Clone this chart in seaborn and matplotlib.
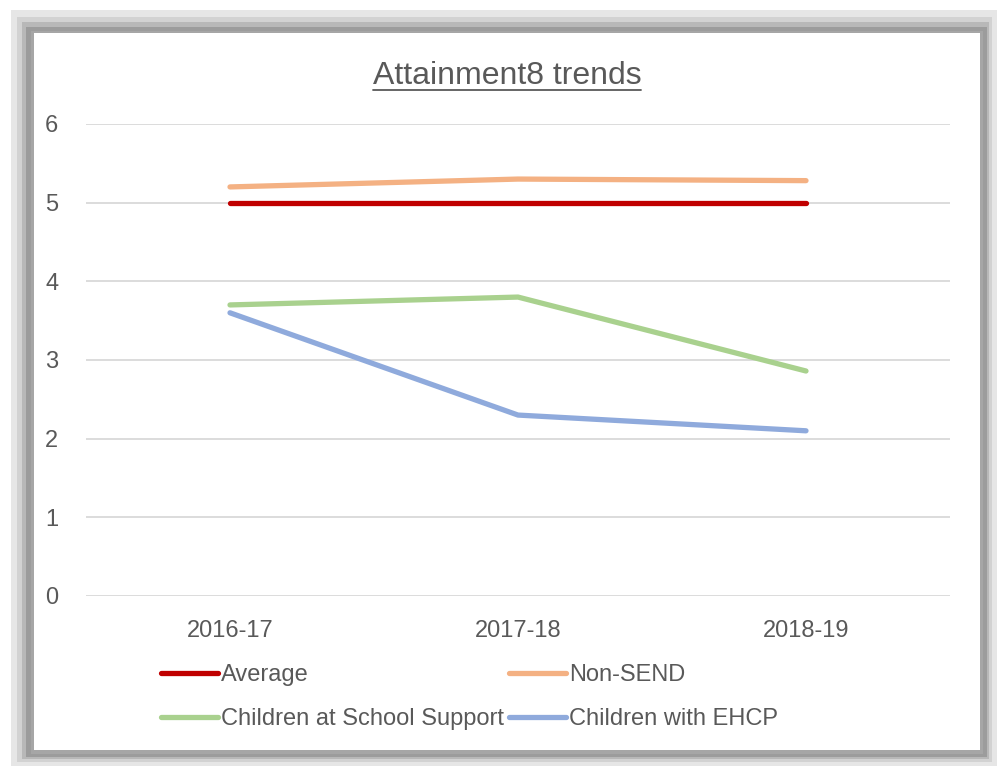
import matplotlib
matplotlib.use("Agg")
import matplotlib.pyplot as plt
from matplotlib.patches import Rectangle
import seaborn as sns
import pandas as pd

years = ["2016-17", "2017-18", "2018-19"]
average = [5.0, 5.0, 5.0]
non_send = [5.20, 5.30, 5.28]
school_support = [3.70, 3.80, 2.86]
ehcp = [3.60, 2.30, 2.10]

series_names = ["Average", "Non-SEND", "Children at School Support", "Children with EHCP"]
series_values = [average, non_send, school_support, ehcp]
colors = ["#C00000", "#F4B183", "#A9D18E", "#8FAADC"]

rows = []
for name, vals in zip(series_names, series_values):
    for i, (yr, v) in enumerate(zip(years, vals)):
        rows.append({"year": yr, "pos": i, "series": name, "value": v})
df = pd.DataFrame(rows)

sns.set_theme(style="white")
plt.rcParams["font.family"] = ["Liberation Sans", "DejaVu Sans"]

W, H = 997, 766
fig = plt.figure(figsize=(W / 100, H / 100), dpi=100)
fig.patch.set_facecolor("white")

def px_rect(x0, y0, x1, y1, color, z):
    fig.patches.append(Rectangle((x0 / W, 1 - y1 / H), (x1 - x0) / W, (y1 - y0) / H,
                                 transform=fig.transFigure, facecolor=color,
                                 edgecolor="none", zorder=z))

# layered frame around the chart area
px_rect(11, 10, 997, 766, "#e6e6e6", -10)
px_rect(17, 17, 992, 762, "#d2d2d2", -9)
px_rect(22, 22, 989, 759, "#b8b8b8", -8)
px_rect(26, 27, 987, 757, "#9c9c9c", -7)
px_rect(31, 31, 983, 754, "#a6a6a6", -6)
px_rect(34, 33, 980, 750, "white", -5)

ax = fig.add_axes([86 / W, 1 - 596 / H, (950 - 86) / W, (596 - 124) / H])
ax.set_facecolor("none")

sns.lineplot(data=df, x="pos", y="value", hue="series", hue_order=series_names,
             palette=colors, linewidth=3.8, ax=ax, legend=False, sort=False)
for ln in ax.lines:
    ln.set_solid_capstyle("round")

ax.set_xlim(-0.5, 2.5)
ax.set_ylim(0, 6)
ax.set_xticks(range(len(years)))
ax.set_xticklabels(years)
ax.set_yticks(range(0, 7))
ax.set_xlabel("")
ax.set_ylabel("")
ax.grid(axis="y", color="#d9d9d9", linewidth=1.3)
ax.set_axisbelow(True)
for s in ax.spines.values():
    s.set_visible(False)
ax.tick_params(axis="both", length=0, labelsize=17, labelcolor="#595959")
ax.tick_params(axis="y", pad=20)
ax.tick_params(axis="x", pad=17)

# title with underline
title = fig.text(507 / W, 1 - 76 / H, "Attainment8 trends", ha="center", va="center",
                 fontsize=23, color="#595959")
fig.canvas.draw()
bb = title.get_window_extent().transformed(fig.transFigure.inverted())
fig.add_artist(plt.Line2D([bb.x0, bb.x1], [bb.y0 + 0.001, bb.y0 + 0.001],
                          transform=fig.transFigure, color="#595959", linewidth=1.3))

# legend laid out in two rows: Average / Non-SEND, School Support / EHCP
order = [0, 2, 1, 3]
handles = [plt.Line2D([], [], color=colors[i], linewidth=3.8, solid_capstyle="round") for i in order]
labels = [series_names[i] for i in order]
leg = fig.legend(handles, labels, ncol=2, loc="center left",
                 bbox_to_anchor=(161 / W, 1 - 697 / H), frameon=False,
                 fontsize=17, handlelength=2.4, handletextpad=0.15,
                 columnspacing=0.2, labelspacing=0.95, borderaxespad=0, borderpad=0)
for t in leg.get_texts():
    t.set_color("#595959")

fig.savefig("out.png", dpi=100)
